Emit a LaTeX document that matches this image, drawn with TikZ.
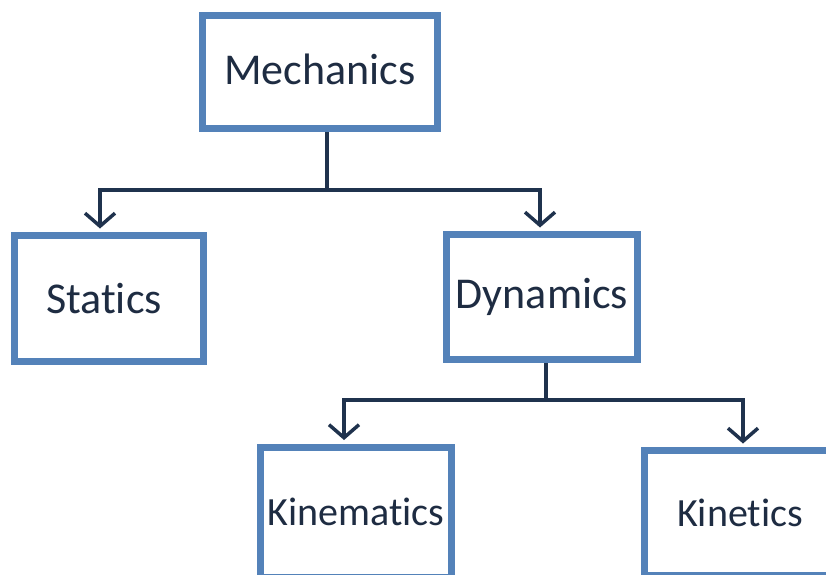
\documentclass[tikz,border=0pt]{standalone}
\usepackage{fontspec}
\setmainfont{Carlito}[Ligatures=NoCommon]
\usetikzlibrary{arrows.meta,calc}
\definecolor{boxblue}{RGB}{84,130,185}
\definecolor{linenavy}{RGB}{31,50,77}
\definecolor{textnavy}{RGB}{30,44,66}
\begin{document}
\begin{tikzpicture}[x=1pt,y=-1pt,
  box/.style={draw=boxblue,line width=7pt,fill=white,rectangle,inner sep=0pt,
    text=textnavy,font=\fontsize{44}{50}\selectfont},
  smallbox/.style={box,font=\fontsize{40}{46}\selectfont},
  conn/.style={draw=linenavy,line width=3.5pt},
  arr/.style={conn,-{Straight Barb[length=13pt,width=30pt,line width=3.5pt]}}]
\useasboundingbox (0,0) rectangle (826,574);
\clip (0,0) rectangle (826,574);
\node[box,minimum width=235pt,minimum height=113pt] (mech) at (320,72) {\raisebox{6pt}{Mechanics}};
\node[box,minimum width=189pt,minimum height=126pt] (stat) at (109,298.5) {\kern-10pt Statics};
\node[box,minimum width=191pt,minimum height=125pt] (dyn) at (542,297) {Dynamics};
\node[smallbox,minimum width=191pt,minimum height=130pt] (kinem) at (356,512) {Kinematics};
\node[smallbox,minimum width=191pt,minimum height=125pt] (kinet) at (740,513) {Kinetics};
\coordinate (b1) at (327,190);
\coordinate (b2) at (546,400);
\draw[conn] (mech.south -| b1) -- (b1);
\draw[arr] (b1) -| ($(stat.north)+(-9,-3.5)$);
\draw[arr] (b1) -| ($(dyn.north)+(-2,-3.5)$);
\draw[conn] (dyn.south -| b2) -- (b2);
\draw[arr] (b2) -| ($(kinem.north)+(-12,-3.5)$);
\draw[arr] (b2) -| ($(kinet.north)+(3,-3.5)$);
\end{tikzpicture}
\end{document}
